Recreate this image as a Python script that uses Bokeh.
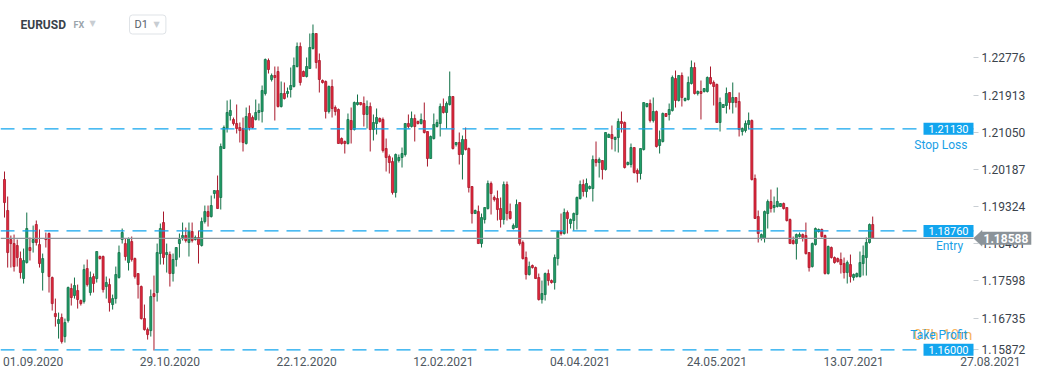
from bokeh.plotting import figure
from bokeh.models import (ColumnDataSource, FixedTicker, PrintfTickFormatter,
                          Label, Range1d, PolyAnnotation)
from bokeh.embed import file_html
from bokeh.resources import INLINE

# ---------------- data (EURUSD, D1) ----------------
symbol = "EURUSD"
market = "FX"
interval = "D1"

open_ = [
    1.19953, 1.19233, 1.18559, 1.18466, 1.18420, 1.18118, 1.17654, 1.18025, 1.18374, 1.18490,
    1.18908, 1.18443, 1.17793, 1.18583, 1.18699, 1.17677, 1.16841, 1.16609, 1.16748, 1.16307,
    1.16678, 1.17422, 1.17259, 1.17375, 1.17143, 1.17120, 1.17886, 1.17329, 1.17700, 1.17654,
    1.18165, 1.18165, 1.17468, 1.17514, 1.17050, 1.17189, 1.17677, 1.18559, 1.18466, 1.18025,
    1.18513, 1.18118, 1.17770, 1.17468, 1.16725, 1.16469, 1.16446, 1.17305, 1.17329, 1.18234,
    1.18954, 1.18211, 1.18211, 1.17770, 1.18095, 1.18466, 1.18606, 1.18652, 1.18490, 1.18745,
    1.18559, 1.18606, 1.18420, 1.18977, 1.19209, 1.19093, 1.19627, 1.19697, 1.19535, 1.20672,
    1.21137, 1.21438, 1.21346, 1.21253, 1.21160, 1.21137, 1.20788, 1.21485, 1.21392, 1.21346,
    1.21508, 1.21531, 1.21949, 1.22715, 1.22274, 1.22367, 1.22460, 1.21647, 1.21949, 1.21949,
    1.22042, 1.22112, 1.22576, 1.23040, 1.22460, 1.22344, 1.22529, 1.22994, 1.23342, 1.22715,
    1.22251, 1.22228, 1.21531, 1.22112, 1.21624, 1.21578, 1.20904, 1.20835, 1.20788, 1.21322,
    1.21113, 1.21694, 1.21740, 1.21717, 1.21462, 1.21647, 1.21113, 1.21253, 1.21369, 1.21346,
    1.20672, 1.20486, 1.20370, 1.19651, 1.20394, 1.20463, 1.20533, 1.21253, 1.21183, 1.21369,
    1.21299, 1.21253, 1.21322, 1.21067, 1.20440, 1.20904, 1.21183, 1.21253, 1.21647, 1.21508,
    1.21694, 1.21880, 1.20765, 1.20812, 1.20533, 1.20881, 1.20672, 1.19790, 1.19163, 1.19209,
    1.18466, 1.19024, 1.19279, 1.19860, 1.19535, 1.19511, 1.19279, 1.19024, 1.19836, 1.19209,
    1.18815, 1.18838, 1.19418, 1.18490, 1.18141, 1.17747, 1.17956, 1.17909, 1.17677, 1.17166,
    1.17282, 1.17770, 1.17607, 1.17561, 1.18118, 1.18745, 1.18699, 1.19186, 1.18931, 1.19001,
    1.19140, 1.19511, 1.19836, 1.19674, 1.19744, 1.19744, 1.20417, 1.20347, 1.20394, 1.20185,
    1.20928, 1.20997, 1.20881, 1.20928, 1.21299, 1.21276, 1.20301, 1.20301, 1.20695, 1.20161,
    1.20092, 1.20649, 1.21647, 1.21717, 1.21322, 1.21531, 1.20742, 1.20835, 1.21485, 1.21462,
    1.21554, 1.22297, 1.21787, 1.22367, 1.21787, 1.21810, 1.22181, 1.22553, 1.21949, 1.21996,
    1.21996, 1.21996, 1.22321, 1.22205, 1.22158, 1.21276, 1.21624, 1.21671, 1.21972, 1.21740,
    1.21856, 1.21763, 1.21067, 1.21090, 1.21230, 1.21322, 1.19976, 1.19093, 1.18583, 1.18583,
    1.19163, 1.19442, 1.19302, 1.19326, 1.19326, 1.19395, 1.19302, 1.19024, 1.18536, 1.18466,
    1.18629, 1.18675, 1.18652, 1.18257, 1.17932, 1.18443, 1.18745, 1.18792, 1.18652, 1.17770,
    1.18374, 1.18141, 1.18118, 1.18095, 1.18002, 1.17793, 1.17979, 1.17677, 1.17700, 1.17700,
    1.18002, 1.18141, 1.18490, 1.18908,
]

high = [
    1.20138, 1.19558, 1.18652, 1.18675, 1.18559, 1.18281, 1.18350, 1.19186, 1.18606, 1.18884,
    1.19001, 1.18792, 1.18234, 1.18722, 1.18722, 1.17700, 1.17189, 1.16864, 1.16841, 1.16725,
    1.17468, 1.17538, 1.17677, 1.17514, 1.17166, 1.17979, 1.18095, 1.17816, 1.17770, 1.18281,
    1.18188, 1.18188, 1.17700, 1.17654, 1.17282, 1.17932, 1.18420, 1.18815, 1.18583, 1.18606,
    1.18629, 1.18141, 1.17770, 1.17491, 1.17050, 1.16516, 1.17398, 1.17723, 1.18466, 1.18931,
    1.19209, 1.18466, 1.18281, 1.18234, 1.18374, 1.18699, 1.18954, 1.18838, 1.18954, 1.18954,
    1.18652, 1.18768, 1.19070, 1.19349, 1.19349, 1.19581, 1.19697, 1.20045, 1.20788, 1.21206,
    1.21787, 1.21810, 1.21392, 1.21694, 1.21276, 1.21392, 1.21624, 1.21671, 1.21438, 1.21810,
    1.21717, 1.22135, 1.22762, 1.22762, 1.22413, 1.22576, 1.22576, 1.22228, 1.22205, 1.22088,
    1.22553, 1.22785, 1.23133, 1.23133, 1.22483, 1.22785, 1.23342, 1.23551, 1.23342, 1.22878,
    1.22274, 1.22251, 1.22135, 1.22274, 1.21671, 1.21601, 1.20928, 1.20858, 1.21485, 1.21624,
    1.21763, 1.21926, 1.21740, 1.21880, 1.21787, 1.21740, 1.21462, 1.21601, 1.21392, 1.21392,
    1.20904, 1.20533, 1.20463, 1.20556, 1.20533, 1.20695, 1.21253, 1.21462, 1.21531, 1.21462,
    1.21322, 1.21485, 1.21740, 1.21067, 1.20974, 1.21485, 1.21346, 1.21717, 1.21833, 1.21763,
    1.22460, 1.21880, 1.20812, 1.21044, 1.20974, 1.21160, 1.20695, 1.19790, 1.19256, 1.19349,
    1.19163, 1.19302, 1.19929, 1.19906, 1.19581, 1.19697, 1.19535, 1.19906, 1.19906, 1.19395,
    1.18931, 1.19488, 1.19418, 1.18536, 1.18281, 1.18048, 1.17979, 1.17932, 1.17770, 1.17607,
    1.17793, 1.17863, 1.17631, 1.18211, 1.18768, 1.19163, 1.19279, 1.19233, 1.19047, 1.19186,
    1.19558, 1.19929, 1.19953, 1.19976, 1.19813, 1.20510, 1.20835, 1.20463, 1.20394, 1.21044,
    1.21021, 1.21206, 1.20951, 1.21369, 1.21531, 1.21299, 1.20370, 1.20788, 1.20695, 1.20208,
    1.20672, 1.21740, 1.21717, 1.21810, 1.21856, 1.21554, 1.21090, 1.21508, 1.21485, 1.21717,
    1.22367, 1.22483, 1.22367, 1.22437, 1.21856, 1.22344, 1.22715, 1.22669, 1.22019, 1.22251,
    1.22065, 1.22344, 1.22576, 1.22251, 1.22181, 1.21856, 1.21694, 1.22088, 1.21972, 1.22205,
    1.21856, 1.21972, 1.21160, 1.21322, 1.21508, 1.21346, 1.20069, 1.19233, 1.18699, 1.19233,
    1.19488, 1.19720, 1.19558, 1.19767, 1.19395, 1.19418, 1.19302, 1.19047, 1.18629, 1.18699,
    1.18722, 1.18699, 1.18954, 1.18257, 1.18490, 1.18838, 1.18815, 1.18815, 1.18675, 1.18420,
    1.18397, 1.18165, 1.18141, 1.18257, 1.18141, 1.18072, 1.18211, 1.17770, 1.17793, 1.18281,
    1.18420, 1.18606, 1.18931, 1.19093,
]

low = [
    1.19070, 1.17909, 1.17909, 1.17816, 1.17932, 1.17654, 1.17538, 1.18002, 1.18072, 1.18257,
    1.18420, 1.17909, 1.17375, 1.18374, 1.17329, 1.16911, 1.16539, 1.16260, 1.16144, 1.16168,
    1.16632, 1.17027, 1.17189, 1.16957, 1.17027, 1.17073, 1.17468, 1.17259, 1.17329, 1.17561,
    1.18095, 1.17329, 1.17189, 1.16887, 1.16934, 1.17073, 1.17654, 1.18466, 1.18072, 1.17840,
    1.18048, 1.17654, 1.17189, 1.16702, 1.16446, 1.16237, 1.16307, 1.15983, 1.17120, 1.17979,
    1.17979, 1.17793, 1.17468, 1.17584, 1.17932, 1.18141, 1.18536, 1.18490, 1.18165, 1.18490,
    1.18536, 1.18002, 1.18397, 1.18931, 1.18861, 1.19070, 1.19511, 1.19279, 1.19256, 1.20672,
    1.21044, 1.21322, 1.21206, 1.21021, 1.20812, 1.20603, 1.20765, 1.21090, 1.21137, 1.21322,
    1.21322, 1.21276, 1.21903, 1.22413, 1.22228, 1.21322, 1.21624, 1.21624, 1.21810, 1.21856,
    1.21856, 1.22088, 1.22553, 1.22135, 1.22344, 1.22321, 1.22529, 1.22970, 1.22529, 1.21972,
    1.22181, 1.21369, 1.21485, 1.21392, 1.21438, 1.20788, 1.20765, 1.20556, 1.20765, 1.20788,
    1.21090, 1.21671, 1.21671, 1.21183, 1.21137, 1.20603, 1.20858, 1.20997, 1.21276, 1.20579,
    1.20138, 1.20092, 1.19604, 1.19535, 1.20347, 1.20231, 1.20486, 1.21137, 1.21160, 1.20835,
    1.21230, 1.21230, 1.21021, 1.20254, 1.20440, 1.20881, 1.21160, 1.20951, 1.21485, 1.21137,
    1.21671, 1.20649, 1.20719, 1.20301, 1.19953, 1.20626, 1.19651, 1.18931, 1.19163, 1.18466,
    1.18374, 1.18931, 1.19256, 1.19140, 1.19442, 1.19001, 1.18838, 1.18908, 1.19001, 1.19024,
    1.18792, 1.18838, 1.18420, 1.18095, 1.17631, 1.17723, 1.17886, 1.17654, 1.17143, 1.17073,
    1.17143, 1.17491, 1.17538, 1.17398, 1.17956, 1.18652, 1.18675, 1.18699, 1.18815, 1.18768,
    1.18792, 1.19488, 1.19558, 1.19535, 1.19720, 1.19442, 1.20254, 1.19999, 1.19953, 1.20161,
    1.20928, 1.20649, 1.20603, 1.20579, 1.21044, 1.20208, 1.20277, 1.20231, 1.20092, 1.19883,
    1.19953, 1.20626, 1.21624, 1.21276, 1.21276, 1.20695, 1.20556, 1.20812, 1.21415, 1.21322,
    1.21531, 1.21624, 1.21763, 1.21647, 1.21763, 1.21787, 1.22158, 1.21926, 1.21903, 1.21346,
    1.21972, 1.21972, 1.22158, 1.21671, 1.21276, 1.21067, 1.21624, 1.21485, 1.21578, 1.21485,
    1.21624, 1.20951, 1.20974, 1.21044, 1.21113, 1.19929, 1.19047, 1.18490, 1.18536, 1.18490,
    1.18815, 1.19186, 1.19186, 1.19302, 1.19326, 1.19256, 1.18977, 1.18466, 1.18443, 1.18095,
    1.18606, 1.18513, 1.18211, 1.17816, 1.17909, 1.18420, 1.18722, 1.18606, 1.17747, 1.17747,
    1.18118, 1.18002, 1.18025, 1.17770, 1.17654, 1.17538, 1.17561, 1.17607, 1.17677, 1.17677,
    1.17723, 1.17723, 1.18466, 1.18583,
]

close = [
    1.19418, 1.18257, 1.18466, 1.17932, 1.18141, 1.17793, 1.18072, 1.18815, 1.18304, 1.18559,
    1.18490, 1.18002, 1.18118, 1.18559, 1.17700, 1.17073, 1.16771, 1.16702, 1.16191, 1.16632,
    1.17445, 1.17213, 1.17491, 1.17166, 1.17073, 1.17863, 1.17514, 1.17677, 1.17538, 1.18281,
    1.18118, 1.17398, 1.17561, 1.17096, 1.17189, 1.17747, 1.18257, 1.18722, 1.18165, 1.18583,
    1.18095, 1.17700, 1.17514, 1.16725, 1.16469, 1.16353, 1.17236, 1.17236, 1.18257, 1.18815,
    1.18141, 1.18257, 1.17770, 1.18095, 1.18374, 1.18559, 1.18652, 1.18536, 1.18745, 1.18536,
    1.18606, 1.18443, 1.18977, 1.19209, 1.19093, 1.19349, 1.19697, 1.19279, 1.20719, 1.21160,
    1.21508, 1.21554, 1.21253, 1.21137, 1.21090, 1.20812, 1.21415, 1.21160, 1.21160, 1.21508,
    1.21554, 1.22019, 1.22738, 1.22506, 1.22367, 1.22321, 1.21647, 1.21949, 1.21833, 1.21996,
    1.22135, 1.22599, 1.23040, 1.22205, 1.22344, 1.22576, 1.23017, 1.23342, 1.22669, 1.22274,
    1.22205, 1.21531, 1.22112, 1.21601, 1.21531, 1.20788, 1.20788, 1.20788, 1.21346, 1.21113,
    1.21740, 1.21740, 1.21694, 1.21462, 1.21647, 1.21113, 1.21276, 1.21392, 1.21299, 1.20626,
    1.20463, 1.20347, 1.19651, 1.20533, 1.20463, 1.20556, 1.21253, 1.21183, 1.21369, 1.21183,
    1.21253, 1.21346, 1.21044, 1.20440, 1.20951, 1.21230, 1.21276, 1.21647, 1.21508, 1.21717,
    1.21880, 1.20672, 1.20812, 1.20533, 1.20881, 1.20649, 1.19767, 1.19163, 1.19233, 1.18466,
    1.19070, 1.19302, 1.19860, 1.19627, 1.19488, 1.19256, 1.19024, 1.19836, 1.19163, 1.19047,
    1.18884, 1.19372, 1.18466, 1.18118, 1.17747, 1.17932, 1.17909, 1.17654, 1.17166, 1.17305,
    1.17770, 1.17607, 1.17561, 1.18141, 1.18745, 1.18699, 1.19186, 1.19047, 1.19024, 1.19163,
    1.19535, 1.19836, 1.19674, 1.19860, 1.19790, 1.20417, 1.20347, 1.20417, 1.20185, 1.21044,
    1.20997, 1.20904, 1.20928, 1.21299, 1.21253, 1.20231, 1.20347, 1.20695, 1.20115, 1.20092,
    1.20672, 1.21740, 1.21717, 1.21322, 1.21531, 1.20719, 1.20881, 1.21485, 1.21415, 1.21578,
    1.22321, 1.21787, 1.22367, 1.21856, 1.21833, 1.22205, 1.22553, 1.21949, 1.21996, 1.21949,
    1.22065, 1.22321, 1.22181, 1.22112, 1.21276, 1.21740, 1.21694, 1.21949, 1.21740, 1.21856,
    1.21740, 1.21113, 1.21137, 1.21253, 1.21322, 1.19953, 1.19047, 1.18699, 1.18675, 1.19209,
    1.19442, 1.19279, 1.19349, 1.19442, 1.19395, 1.19279, 1.19001, 1.18466, 1.18466, 1.18675,
    1.18675, 1.18606, 1.18234, 1.17909, 1.18466, 1.18815, 1.18792, 1.18629, 1.17770, 1.18397,
    1.18141, 1.18025, 1.18048, 1.17979, 1.17793, 1.18025, 1.17700, 1.17747, 1.17770, 1.18025,
    1.18188, 1.18490, 1.18908, 1.18588,
]

tick_idx = [0, 43, 86, 129, 172, 215, 258, 301]
tick_labels = ["01.09.2020", "29.10.2020", "22.12.2020", "12.02.2021",
               "04.04.2021", "24.05.2021", "13.07.2021", "27.08.2021"]
y_ticks = [1.15872, 1.16735, 1.17598, 1.18461, 1.19324, 1.20187, 1.21050, 1.21913, 1.22776]

stop_loss = 1.21130
entry = 1.18760
take_profit = 1.16000
last_price = 1.18588
countdown = "07h 10m"

# ---------------- build ----------------
FONT = "Roboto"
GREEN_FILL, GREEN_LINE = "#21a06a", "#107046"
RED_FILL, RED_LINE = "#e5283d", "#a8182b"
BLUE = "#12a5ee"
TAG = "#8b9399"

n = len(close)
xs = list(range(n))
is_up = [c >= o for o, c in zip(open_, close)]


def subset(flag):
    ids = [i for i in xs if is_up[i] == flag]
    return ColumnDataSource(dict(
        x=ids,
        high=[high[i] for i in ids],
        low=[low[i] for i in ids],
        top=[max(open_[i], close[i]) for i in ids],
        bottom=[min(open_[i], close[i]) for i in ids],
    ))


up_src = subset(True)
dn_src = subset(False)

W, H = 1041, 380
X0 = -1.26          # left edge of the chart area (bar units)
AX = 304.7          # where the price scale starts (bar units)
FRAME_RIGHT_PX = 973
X1 = X0 + (AX - X0) * W / FRAME_RIGHT_PX
Y0, Y1 = 1.15705, 1.23876
FRAME_H_PX = H - 10 - 18

p = figure(width=W, height=H, x_range=Range1d(X0, X1),
           y_range=Range1d(Y0, Y1),
           output_backend="svg", toolbar_location=None,
           y_axis_location="right",
           min_border_left=0, min_border_top=10, min_border_right=0,
           min_border_bottom=18)
p.outline_line_color = None
p.grid.visible = False
p.background_fill_color = "white"
p.border_fill_color = "white"

# candles
p.segment(x0="x", y0="low", x1="x", y1="high", source=up_src,
          line_color=GREEN_LINE, line_width=1)
p.segment(x0="x", y0="low", x1="x", y1="high", source=dn_src,
          line_color=RED_LINE, line_width=1)
p.vbar(x="x", width=0.64, top="top", bottom="bottom", source=up_src,
       fill_color=GREEN_FILL, line_color=GREEN_LINE, line_width=0.8)
p.vbar(x="x", width=0.64, top="top", bottom="bottom", source=dn_src,
       fill_color=RED_FILL, line_color=RED_LINE, line_width=0.8)

# order levels (dashed) and current price (solid), up to the price scale
lvl_src = ColumnDataSource(dict(y=[stop_loss, entry, take_profit]))
p.segment(x0=X0, x1=AX, y0="y", y1="y", source=lvl_src, line_color=BLUE,
          line_width=1.3, line_dash="14 8")
p.segment(x0=X0, x1=AX, y0=last_price, y1=last_price, line_color="#8d959b", line_width=1.2)

# y axis (right, drawn at the price-scale edge); a label too close to the bottom
# edge is lifted so that it stays inside the chart, as the platform does
px_per_unit = FRAME_H_PX / (Y1 - Y0)
lift_floor = round(Y0 + 13 / px_per_unit, 5)
tick_pos = [max(t, lift_floor) for t in y_ticks]
ya = p.yaxis[0]
ya.fixed_location = AX
ya.ticker = FixedTicker(ticks=tick_pos)
ya.formatter = PrintfTickFormatter(format="%.5f")
ya.major_label_overrides = {pos: f"{t:.5f}" for pos, t in zip(tick_pos, y_ticks) if pos != t}
ya.axis_line_color = None
ya.major_tick_line_color = "#c9ced3"
ya.major_tick_out = 5
ya.major_tick_in = 0
ya.minor_tick_line_color = None
ya.major_label_standoff = 3
ya.major_label_text_font = FONT
ya.major_label_text_font_size = "12px"
ya.major_label_text_color = "#3a434c"

# x axis (below): labels start at the tick bar, so centre them a few bars to the right
LABEL_SHIFT = 9
xa = p.xaxis[0]
xa.ticker = FixedTicker(ticks=[t + LABEL_SHIFT for t in tick_idx])
xa.major_label_overrides = {t + LABEL_SHIFT: lab for t, lab in zip(tick_idx, tick_labels)}
xa.axis_line_color = None
xa.major_tick_line_color = None
xa.minor_tick_line_color = None
xa.major_tick_out = 0
xa.major_tick_in = 0
xa.major_label_standoff = -6
xa.major_label_text_font = FONT
xa.major_label_text_font_size = "12px"
xa.major_label_text_color = "#4e5760"


# level boxes
def level_box(price, txt):
    p.add_layout(Label(x=AX, y=price, text=txt, text_align="right", text_baseline="middle",
                       x_offset=0, text_font=FONT, text_font_size="11px", text_color="white",
                       background_fill_color=BLUE,
                       padding=dict(left=5, right=5, top=2, bottom=2)))


level_box(stop_loss, f"{stop_loss:.5f}")
level_box(entry, f"{entry:.5f}")
level_box(take_profit, f"{take_profit:.5f}")

p.add_layout(Label(x=AX, y=stop_loss, y_offset=-16, x_offset=-6, text="Stop Loss",
                   text_align="right", text_baseline="middle", text_font=FONT,
                   text_font_size="12px", text_color="#1aa0e6"))
p.add_layout(Label(x=AX, y=entry, y_offset=-15, x_offset=-24, text="Entry",
                   text_align="center", text_baseline="middle", text_font=FONT,
                   text_font_size="12px", text_color="#1aa0e6"))
p.add_layout(Label(x=AX, y=take_profit, y_offset=15, x_offset=-1, text=countdown,
                   text_align="right", text_baseline="middle", text_font=FONT,
                   text_font_size="15px", text_color="#f5a033", text_alpha=0.8))
p.add_layout(Label(x=AX, y=take_profit, y_offset=15, x_offset=-6, text="Take Profit",
                   text_align="right", text_baseline="middle", text_font=FONT,
                   text_font_size="12px", text_color="#1aa0e6"))

# current price tag
dy = 0.00186
p.add_layout(PolyAnnotation(xs=[AX, AX + 2.7, AX + 2.7], ys=[last_price, last_price + dy, last_price - dy],
                            fill_color=TAG, fill_alpha=1, line_color=TAG, line_width=1))
p.add_layout(Label(x=AX, y=last_price, x_offset=8, text=f"{last_price:.5f}",
                   text_align="left", text_baseline="middle", text_font=FONT,
                   text_font_size="12px", text_font_style="bold", text_color="white",
                   background_fill_color=TAG,
                   padding=dict(left=2, right=3, top=2, bottom=2)))

# header
H_Y = 338
p.add_layout(Label(x=20, y=H_Y, x_units="screen", y_units="screen", text=symbol,
                   text_baseline="middle", text_font=FONT, text_font_size="12px",
                   text_font_style="bold", text_color="#39424a"))
p.add_layout(Label(x=73, y=H_Y, x_units="screen", y_units="screen", text=market,
                   text_baseline="middle", text_font=FONT, text_font_size="9px",
                   text_font_style="bold", text_color="#9ba4ac"))
p.add_layout(Label(x=89, y=H_Y + 1, x_units="screen", y_units="screen", text="\u25bc",
                   text_baseline="middle", text_font="DejaVu Sans", text_font_size="8px",
                   text_color="#c8cdd2"))
p.add_layout(Label(x=129, y=H_Y, x_units="screen", y_units="screen", text=interval,
                   text_baseline="middle", text_font=FONT, text_font_size="11px",
                   text_color="#59626b", border_line_color="#dfe3e7",
                   background_fill_color="white", border_radius=3,
                   padding=dict(left=5, right=18, top=3, bottom=3)))
p.add_layout(Label(x=153, y=H_Y, x_units="screen", y_units="screen", text="\u25bc",
                   text_baseline="middle", text_font="DejaVu Sans", text_font_size="8px",
                   text_color="#c8cdd2"))

open("out.html", "w").write(file_html(p, INLINE))
